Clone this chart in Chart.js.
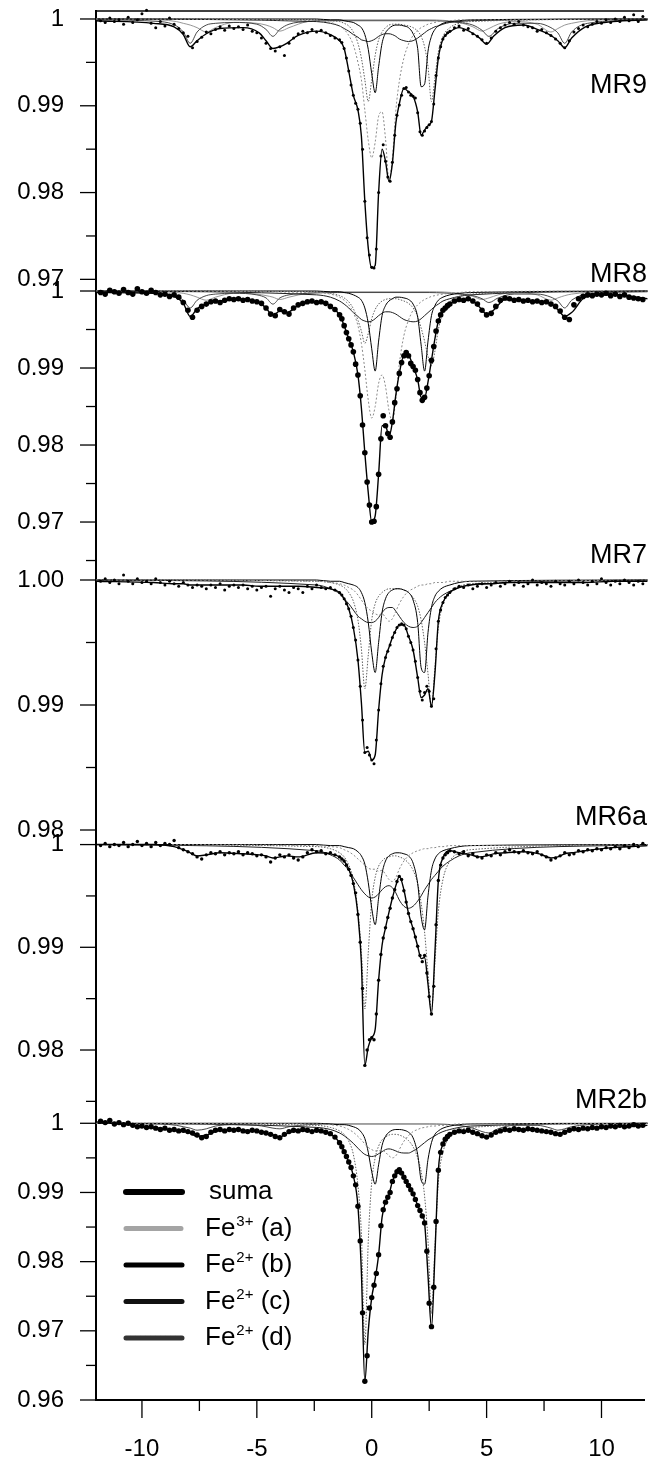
<!DOCTYPE html>
<html>
<head>
<meta charset="utf-8">
<script src="https://cdn.jsdelivr.net/npm/chart.js@4.4.1/dist/chart.umd.min.js"></script>
<style>
  html, body { margin: 0; padding: 0; background: #fff; }
  canvas { display: block; }
</style>
</head>
<body>
<canvas id="mycanvas" width="648" height="1466"></canvas>
<script>
// velocity channels, mm/s (finer steps across the central doublets)
const vel = [];
for (let i = 0; i < 52; i++) vel.push(+(-11.8 + 0.2 * i).toFixed(1));
for (let i = 0; i < 49; i++) vel.push(+(-1.4 + 0.1 * i).toFixed(1));
for (let i = 0; i < 42; i++) vel.push(+(3.6 + 0.2 * i).toFixed(1));

// velocities where the fitted curves are tabulated
const fitVel = [-12, -9.5, -8.6, -8.2, -7.9, -7.6, -7.2, -6.6, -5.6, -4.9,
  -4.6, -4.3, -4.0, -3.7, -3.2, -2.4, -1.8, -1.4, -1.2, -1.0,
  -0.8, -0.6, -0.45, -0.3, -0.15, 0, 0.15, 0.3, 0.45, 0.6,
  0.75, 0.9, 1.05, 1.2, 1.4, 1.6, 1.8, 2.0, 2.15, 2.3,
  2.45, 2.6, 2.75, 2.9, 3.1, 3.4, 3.8, 4.3, 4.7, 5.0,
  5.3, 5.8, 6.6, 7.3, 7.8, 8.1, 8.4, 8.7, 9.3, 10.5,
  12];
const dubVel = [-12, -2.4, -1.8, -1.4, -1.2, -1.0, -0.8, -0.6, -0.45, -0.3,
  -0.15, 0, 0.15, 0.3, 0.45, 0.6, 0.75, 0.9, 1.05, 1.2,
  1.4, 1.6, 1.8, 2.0, 2.15, 2.3, 2.45, 2.6, 2.75, 2.9,
  3.1, 3.4, 3.8, 4.3, 12];
const sextVel = [-12, -9.2, -8.5, -8.2, -7.9, -7.6, -7.2, -6.8, -6.0, -5.0,
  -4.6, -4.3, -4.0, -3.6, -2.8, -1.5, 2.5, 3.8, 4.4, 4.8,
  5.1, 5.5, 6.2, 7.2, 7.8, 8.1, 8.4, 8.7, 9.4, 12];

const xTicks = [-10, -7.5, -5, -2.5, 0, 2.5, 5, 7.5, 10];

// ---------- MR9 ----------
const mr9Obs = [
  0.9998, 0.9996, 1.0001, 0.9997, 0.9999, 0.9994, 1.0002, 0.9996, 0.9999, 1.0006,
  1.0010, 0.9995, 0.9990, 0.9997, 0.9992, 1.0001, 0.9994, 0.9989, 0.9984, 0.9980,
  0.9967, 0.9974, 0.9979, 0.9985, 0.9983, 0.9988, 0.9991, 0.9987, 0.9992, 0.9989,
  0.9991, 0.9988, 0.9993, 0.9986, 0.9984, 0.9978, 0.9972, 0.9966, 0.9963, 0.9968,
  0.9958, 0.9972, 0.9978, 0.9983, 0.9986, 0.9984, 0.9988, 0.9985, 0.9987, 0.9984,
  0.9981, 0.9978,
  0.9976, 0.9973, 0.9966, 0.9955, 0.9940, 0.9924, 0.9912, 0.9903, 0.9896, 0.9880,
  0.9850, 0.9790, 0.9748, 0.9728, 0.9714, 0.9713, 0.9735, 0.9800, 0.9842, 0.9855,
  0.9836, 0.9818, 0.9813, 0.9835, 0.9866, 0.9889, 0.9901, 0.9912, 0.9920, 0.9921,
  0.9916, 0.9912, 0.9911, 0.9909, 0.9892, 0.9870, 0.9866, 0.9871, 0.9875, 0.9878,
  0.9882, 0.9902, 0.9935, 0.9955, 0.9968, 0.9977, 0.9981, 0.9984, 0.9986,
  0.9990, 0.9992, 0.9987, 0.9989, 0.9983, 0.9980, 0.9976, 0.9972, 0.9978, 0.9986,
  0.9990, 0.9993, 0.9996, 0.9994, 0.9997, 0.9993, 0.9991, 0.9990, 0.9986, 0.9988,
  0.9984, 0.9981, 0.9977, 0.9972, 0.9967, 0.9975, 0.9985, 0.9989, 0.9993, 0.9991,
  0.9994, 0.9997, 0.9995, 0.9999, 0.9996, 1.0000, 0.9997, 1.0002, 0.9998, 1.0005,
  0.9997, 1.0003];
const mr9Sum = [
  0.9998, 0.9995, 0.9991, 0.9982, 0.9968, 0.9975, 0.9983, 0.9989, 0.9990, 0.9984,
  0.9975, 0.9966, 0.9968, 0.9972, 0.9981, 0.9986, 0.9982, 0.9975, 0.9966, 0.9940,
  0.9912, 0.9895, 0.9865, 0.9790, 0.9736, 0.9713, 0.9716, 0.9800, 0.9850, 0.9836,
  0.9813, 0.9834, 0.9880, 0.9902, 0.9920, 0.9916, 0.9911, 0.9893, 0.9866, 0.9872,
  0.9877, 0.9882, 0.9918, 0.9955, 0.9977, 0.9985, 0.9990, 0.9985, 0.9978, 0.9971,
  0.9980, 0.9990, 0.9993, 0.9987, 0.9981, 0.9975, 0.9967, 0.9978, 0.9991, 0.9997,
  0.9999];
const mr9A = [
  1.0, 0.9998, 0.9996, 0.9992, 0.9988, 0.9981, 0.9970, 0.9950, 0.9930, 0.9895,
  0.9860, 0.9840, 0.9858, 0.9888, 0.9893, 0.9862, 0.9815, 0.9840, 0.9895, 0.9928,
  0.9955, 0.9971, 0.9981, 0.9987, 0.9990, 0.9992, 0.9994, 0.9995, 0.9996, 0.9997,
  0.9998, 0.9998, 0.9999, 0.9999, 1.0];
const mr9B = [
  1.0, 1.0, 0.9999, 0.9999, 0.9998, 0.9997, 0.9996, 0.9993, 0.9990, 0.9982,
  0.9965, 0.9937, 0.9915, 0.9945, 0.9972, 0.9984, 0.9989, 0.9992, 0.9993, 0.9993,
  0.9992, 0.9990, 0.9983, 0.9966, 0.9922, 0.9925, 0.9963, 0.9980, 0.9988, 0.9992,
  0.9995, 0.9997, 0.9998, 0.9999, 1.0];
const mr9C = [
  1.0, 0.9999, 0.9998, 0.9997, 0.9995, 0.9992, 0.9985, 0.9972, 0.9955, 0.9930,
  0.9905, 0.9930, 0.9958, 0.9976, 0.9985, 0.9990, 0.9993, 0.9994, 0.9994, 0.9994,
  0.9993, 0.9992, 0.9990, 0.9986, 0.9980, 0.9968, 0.9945, 0.9905, 0.9932, 0.9962,
  0.9980, 0.9990, 0.9995, 0.9997, 1.0];
const mr9D = [
  1.0, 0.9997, 0.9995, 0.9992, 0.9989, 0.9986, 0.9982, 0.9979, 0.9976, 0.9975,
  0.9974, 0.9975, 0.9977, 0.9980, 0.9982, 0.9983, 0.9983, 0.9982, 0.9980, 0.9977,
  0.9975, 0.9974, 0.9975, 0.9978, 0.9981, 0.9984, 0.9987, 0.9989, 0.9991, 0.9992,
  0.9994, 0.9996, 0.9997, 0.9998, 1.0];
const mr9S1 = [
  0.9999, 0.9997, 0.9992, 0.9985, 0.9972, 0.9985, 0.9993, 0.9995, 0.9996, 0.9994,
  0.9988, 0.9980, 0.9988, 0.9994, 0.9997, 0.9998, 0.9998, 0.9996, 0.9993, 0.9987,
  0.9980, 0.9989, 0.9995, 0.9995, 0.9990, 0.9984, 0.9972, 0.9985, 0.9995, 0.9999];
const mr9S2 = [
  1.0, 0.9999, 0.9997, 0.9995, 0.9993, 0.9990, 0.9985, 0.9990, 0.9996, 0.9995,
  0.9993, 0.9990, 0.9986, 0.9990, 0.9997, 0.9999, 0.9999, 0.9996, 0.9991, 0.9986,
  0.9989, 0.9994, 0.9997, 0.9994, 0.9985, 0.9989, 0.9993, 0.9995, 0.9998, 1.0];

// ---------- MR8 ----------
const mr8Obs = [
  0.9998, 0.9996, 1.0001, 0.9999, 0.9997, 1.0002, 0.9998, 0.9996, 1.0003, 0.9999,
  0.9997, 1.0001, 0.9998, 0.9995, 0.9996, 0.9993, 0.9995, 0.9992, 0.9985, 0.9975,
  0.9966, 0.9975, 0.9980, 0.9983, 0.9986, 0.9987, 0.9985, 0.9988, 0.9990, 0.9989,
  0.9990, 0.9988, 0.9989, 0.9987, 0.9986, 0.9984, 0.9978, 0.9970, 0.9968, 0.9976,
  0.9973, 0.9970, 0.9978, 0.9982, 0.9984, 0.9986, 0.9987, 0.9985, 0.9986, 0.9984,
  0.9980, 0.9976,
  0.9969, 0.9964, 0.9955, 0.9946, 0.9938, 0.9930, 0.9921, 0.9905, 0.9891, 0.9864,
  0.9826, 0.9790, 0.9752, 0.9722, 0.9700, 0.9701, 0.9720, 0.9762, 0.9808, 0.9838,
  0.9825, 0.9815, 0.9810, 0.9830, 0.9855, 0.9873, 0.9893, 0.9907, 0.9916, 0.9920,
  0.9916, 0.9906, 0.9902, 0.9897, 0.9885, 0.9868, 0.9858, 0.9862, 0.9874, 0.9890,
  0.9910, 0.9928, 0.9948, 0.9961, 0.9969, 0.9975, 0.9978, 0.9981, 0.9983,
  0.9987, 0.9989, 0.9988, 0.9990, 0.9987, 0.9983, 0.9975, 0.9969, 0.9971, 0.9980,
  0.9988, 0.9991, 0.9990, 0.9988, 0.9989, 0.9987, 0.9988, 0.9986, 0.9987, 0.9985,
  0.9986, 0.9983, 0.9980, 0.9974, 0.9966, 0.9963, 0.9982, 0.9990, 0.9993, 0.9995,
  0.9994, 0.9996, 0.9995, 0.9997, 0.9994, 0.9996, 0.9993, 0.9995, 0.9992, 0.9991,
  0.9990, 0.9989];
const mr8Sum = [
  0.9998, 0.9997, 0.9993, 0.9984, 0.9967, 0.9977, 0.9983, 0.9987, 0.9989, 0.9985,
  0.9978, 0.9968, 0.9974, 0.9972, 0.9981, 0.9986, 0.9981, 0.9969, 0.9955, 0.9938,
  0.9921, 0.9891, 0.9848, 0.9790, 0.9738, 0.9700, 0.9708, 0.9762, 0.9825, 0.9825,
  0.9811, 0.9830, 0.9865, 0.9893, 0.9916, 0.9916, 0.9902, 0.9885, 0.9862, 0.9861,
  0.9882, 0.9910, 0.9938, 0.9961, 0.9975, 0.9983, 0.9988, 0.9988, 0.9979, 0.9970,
  0.9975, 0.9989, 0.9988, 0.9986, 0.9983, 0.9976, 0.9967, 0.9972, 0.9992, 0.9995,
  0.9990];
const mr8A = [
  1.0, 0.9998, 0.9996, 0.9992, 0.9988, 0.9982, 0.9972, 0.9955, 0.9932, 0.9898,
  0.9858, 0.9835, 0.9850, 0.9880, 0.9891, 0.9876, 0.9845, 0.9831, 0.9860, 0.9905,
  0.9942, 0.9962, 0.9975, 0.9982, 0.9986, 0.9989, 0.9991, 0.9993, 0.9994, 0.9995,
  0.9996, 0.9997, 0.9998, 0.9999, 1.0];
const mr8B = [
  1.0, 1.0, 0.9999, 0.9999, 0.9998, 0.9997, 0.9995, 0.9992, 0.9988, 0.9978,
  0.9958, 0.9925, 0.9896, 0.9935, 0.9968, 0.9981, 0.9987, 0.9990, 0.9992, 0.9992,
  0.9991, 0.9989, 0.9983, 0.9966, 0.9930, 0.9896, 0.9935, 0.9968, 0.9981, 0.9988,
  0.9992, 0.9995, 0.9997, 0.9998, 1.0];
const mr8C = [
  1.0, 0.9999, 0.9997, 0.9994, 0.9991, 0.9986, 0.9977, 0.9962, 0.9948, 0.9932,
  0.9945, 0.9964, 0.9976, 0.9983, 0.9987, 0.9989, 0.9990, 0.9990, 0.9990, 0.9989,
  0.9987, 0.9984, 0.9978, 0.9967, 0.9952, 0.9935, 0.9915, 0.9903, 0.9922, 0.9950,
  0.9972, 0.9986, 0.9993, 0.9996, 1.0];
const mr8D = [
  1.0, 0.9995, 0.9992, 0.9987, 0.9983, 0.9978, 0.9972, 0.9967, 0.9963, 0.9961,
  0.9960, 0.9961, 0.9964, 0.9968, 0.9971, 0.9973, 0.9973, 0.9972, 0.9970, 0.9967,
  0.9963, 0.9961, 0.9960, 0.9961, 0.9964, 0.9968, 0.9972, 0.9976, 0.9980, 0.9983,
  0.9987, 0.9990, 0.9993, 0.9995, 1.0];
const mr8S1 = [
  0.9999, 0.9997, 0.9993, 0.9988, 0.9978, 0.9988, 0.9994, 0.9996, 0.9997, 0.9995,
  0.9991, 0.9983, 0.9991, 0.9995, 0.9997, 0.9998, 0.9998, 0.9996, 0.9994, 0.9990,
  0.9985, 0.9991, 0.9996, 0.9996, 0.9992, 0.9987, 0.9978, 0.9988, 0.9996, 0.9999];
const mr8S2 = [
  1.0, 0.9999, 0.9998, 0.9997, 0.9995, 0.9992, 0.9988, 0.9992, 0.9997, 0.9996,
  0.9994, 0.9992, 0.9989, 0.9992, 0.9997, 0.9999, 0.9999, 0.9997, 0.9993, 0.9989,
  0.9991, 0.9995, 0.9998, 0.9995, 0.9988, 0.9991, 0.9994, 0.9996, 0.9998, 1.0];

// ---------- MR7 ----------
const mr7Obs = [
  0.9999, 1.0001, 0.9998, 1.0000, 0.9997, 1.0004, 0.9999, 0.9997, 1.0001, 0.9998,
  0.9999, 0.9997, 1.0001, 0.9998, 0.9996, 0.9999, 0.9997, 0.9995, 0.9998, 0.9996,
  0.9994, 0.9996, 0.9995, 0.9993, 0.9996, 0.9994, 0.9997, 0.9992, 0.9995, 0.9996,
  0.9994, 0.9996, 0.9993, 0.9995, 0.9992, 0.9994, 0.9995, 0.9987, 0.9993, 0.9995,
  0.9992, 0.9990, 0.9994, 0.9993, 0.9990, 0.9995, 0.9993, 0.9996, 0.9994, 0.9993,
  0.9994, 0.9992,
  0.9990, 0.9988, 0.9985, 0.9981, 0.9977, 0.9971, 0.9962, 0.9952, 0.9936, 0.9915,
  0.9888, 0.9862, 0.9866, 0.9860, 0.9856, 0.9853, 0.9872, 0.9896, 0.9917, 0.9931,
  0.9938, 0.9943, 0.9948, 0.9954, 0.9958, 0.9962, 0.9964, 0.9965, 0.9964, 0.9961,
  0.9955, 0.9950, 0.9944, 0.9935, 0.9922, 0.9911, 0.9904, 0.9910, 0.9915, 0.9911,
  0.9899, 0.9905, 0.9945, 0.9967, 0.9976, 0.9982, 0.9986, 0.9988, 0.9990,
  0.9993, 0.9995, 0.9994, 0.9996, 0.9993, 0.9995, 0.9997, 0.9994, 0.9996, 0.9998,
  0.9995, 0.9997, 0.9999, 0.9996, 0.9998, 0.9995, 0.9997, 1.0000, 0.9996, 0.9998,
  0.9997, 0.9995, 0.9999, 0.9997, 0.9996, 0.9999, 0.9997, 1.0000, 0.9998, 0.9996,
  0.9999, 0.9997, 1.0001, 0.9998, 0.9996, 0.9999, 0.9997, 1.0000, 0.9998, 0.9996,
  0.9999, 0.9997];
const mr7Sum = [
  0.9999, 0.9998, 0.9997, 0.9997, 0.9996, 0.9996, 0.9996, 0.9996, 0.9996, 0.9995,
  0.9995, 0.9995, 0.9995, 0.9995, 0.9995, 0.9994, 0.9993, 0.9990, 0.9985, 0.9977,
  0.9962, 0.9936, 0.9902, 0.9862, 0.9863, 0.9856, 0.9860, 0.9896, 0.9924, 0.9938,
  0.9946, 0.9954, 0.9960, 0.9964, 0.9964, 0.9955, 0.9944, 0.9922, 0.9906, 0.9908,
  0.9913, 0.9899, 0.9925, 0.9967, 0.9982, 0.9990, 0.9994, 0.9996, 0.9997, 0.9997,
  0.9997, 0.9998, 0.9998, 0.9998, 0.9998, 0.9998, 0.9998, 0.9998, 0.9998, 0.9999,
  0.9999];
const mr7A = [
  1.0, 0.9999, 0.9998, 0.9997, 0.9996, 0.9994, 0.9992, 0.9988, 0.9984, 0.9980,
  0.9977, 0.9975, 0.9973, 0.9972, 0.9973, 0.9970, 0.9967, 0.9969, 0.9975, 0.9981,
  0.9987, 0.9991, 0.9993, 0.9995, 0.9996, 0.9996, 0.9997, 0.9997, 0.9998, 0.9998,
  0.9998, 0.9999, 0.9999, 0.9999, 1.0];
const mr7B = [
  1.0, 1.0, 0.9999, 0.9999, 0.9998, 0.9997, 0.9996, 0.9994, 0.9990, 0.9982,
  0.9966, 0.9942, 0.9926, 0.9950, 0.9974, 0.9985, 0.9990, 0.9992, 0.9993, 0.9993,
  0.9992, 0.9990, 0.9984, 0.9966, 0.9930, 0.9926, 0.9958, 0.9978, 0.9987, 0.9991,
  0.9994, 0.9996, 0.9998, 0.9999, 1.0];
const mr7C = [
  1.0, 0.9999, 0.9998, 0.9996, 0.9994, 0.9990, 0.9983, 0.9968, 0.9945, 0.9913,
  0.9940, 0.9968, 0.9981, 0.9987, 0.9990, 0.9992, 0.9993, 0.9993, 0.9993, 0.9993,
  0.9992, 0.9990, 0.9986, 0.9979, 0.9968, 0.9950, 0.9925, 0.9898, 0.9930, 0.9962,
  0.9981, 0.9991, 0.9995, 0.9997, 1.0];
const mr7D = [
  1.0, 0.9996, 0.9993, 0.9989, 0.9985, 0.9981, 0.9976, 0.9971, 0.9969, 0.9967,
  0.9966, 0.9966, 0.9967, 0.9970, 0.9974, 0.9977, 0.9978, 0.9978, 0.9975, 0.9971,
  0.9966, 0.9963, 0.9962, 0.9963, 0.9966, 0.9970, 0.9974, 0.9978, 0.9982, 0.9985,
  0.9988, 0.9991, 0.9994, 0.9996, 1.0];

// ---------- MR6a ----------
const mr6aObs = [
  0.9999, 1.0001, 0.9998, 1.0000, 0.9999, 1.0002, 0.9998, 1.0000, 1.0003, 0.9999,
  1.0001, 0.9998, 1.0002, 0.9999, 1.0001, 1.0000, 1.0004, 0.9997, 0.9995, 0.9993,
  0.9991, 0.9988, 0.9986, 0.9990, 0.9992, 0.9991, 0.9993, 0.9990, 0.9992, 0.9991,
  0.9993, 0.9990, 0.9992, 0.9991, 0.9989, 0.9990, 0.9988, 0.9983, 0.9987, 0.9990,
  0.9988, 0.9990, 0.9987, 0.9985, 0.9988, 0.9992, 0.9995, 0.9993, 0.9994, 0.9991,
  0.9992, 0.9990,
  0.9988, 0.9986, 0.9984, 0.9980, 0.9976, 0.9970, 0.9962, 0.9953, 0.9932, 0.9905,
  0.9860, 0.9785, 0.9800, 0.9810, 0.9812, 0.9810, 0.9835, 0.9868, 0.9893, 0.9909,
  0.9919, 0.9929, 0.9938, 0.9948, 0.9956, 0.9964, 0.9969, 0.9966, 0.9955, 0.9944,
  0.9933, 0.9925, 0.9918, 0.9910, 0.9901, 0.9892, 0.9886, 0.9892, 0.9875, 0.9852,
  0.9835, 0.9862, 0.9922, 0.9965, 0.9980, 0.9987, 0.9990, 0.9992, 0.9994,
  0.9993, 0.9991, 0.9993, 0.9989, 0.9991, 0.9988, 0.9987, 0.9990, 0.9989, 0.9992,
  0.9990, 0.9993, 0.9995, 0.9993, 0.9992, 0.9994, 0.9992, 0.9991, 0.9993, 0.9990,
  0.9988, 0.9985, 0.9987, 0.9989, 0.9992, 0.9990, 0.9991, 0.9994, 0.9993, 0.9995,
  0.9994, 0.9996, 0.9995, 0.9997, 0.9996, 0.9998, 0.9996, 0.9999, 0.9997, 1.0000,
  0.9998, 1.0001];
const mr6aSum = [
  1.0000, 1.0000, 0.9998, 0.9995, 0.9992, 0.9989, 0.9990, 0.9992, 0.9991, 0.9990,
  0.9989, 0.9987, 0.9988, 0.9989, 0.9988, 0.9992, 0.9991, 0.9988, 0.9984, 0.9976,
  0.9962, 0.9932, 0.9885, 0.9785, 0.9803, 0.9812, 0.9820, 0.9868, 0.9902, 0.9919,
  0.9934, 0.9948, 0.9960, 0.9969, 0.9956, 0.9933, 0.9918, 0.9901, 0.9889, 0.9890,
  0.9864, 0.9835, 0.9895, 0.9965, 0.9987, 0.9994, 0.9992, 0.9990, 0.9988, 0.9989,
  0.9991, 0.9992, 0.9993, 0.9991, 0.9987, 0.9988, 0.9991, 0.9992, 0.9994, 0.9997,
  0.9999];
const mr6aA = [
  1.0, 0.9999, 0.9998, 0.9997, 0.9995, 0.9993, 0.9990, 0.9986, 0.9983, 0.9980,
  0.9977, 0.9976, 0.9976, 0.9974, 0.9975, 0.9971, 0.9966, 0.9964, 0.9968, 0.9976,
  0.9984, 0.9989, 0.9992, 0.9994, 0.9995, 0.9996, 0.9996, 0.9997, 0.9997, 0.9998,
  0.9998, 0.9999, 0.9999, 0.9999, 1.0];
const mr6aB = [
  1.0, 1.0, 0.9999, 0.9999, 0.9998, 0.9997, 0.9996, 0.9993, 0.9989, 0.9981,
  0.9963, 0.9938, 0.9922, 0.9948, 0.9972, 0.9984, 0.9989, 0.9991, 0.9992, 0.9992,
  0.9991, 0.9989, 0.9982, 0.9962, 0.9930, 0.9917, 0.9950, 0.9975, 0.9986, 0.9991,
  0.9994, 0.9996, 0.9998, 0.9999, 1.0];
const mr6aC = [
  1.0, 0.9998, 0.9996, 0.9992, 0.9988, 0.9980, 0.9966, 0.9935, 0.9895, 0.9840,
  0.9895, 0.9945, 0.9968, 0.9979, 0.9984, 0.9987, 0.9988, 0.9989, 0.9989, 0.9988,
  0.9986, 0.9982, 0.9975, 0.9962, 0.9943, 0.9915, 0.9875, 0.9838, 0.9885, 0.9935,
  0.9966, 0.9984, 0.9992, 0.9995, 1.0];
const mr6aD = [
  1.0, 0.9994, 0.9990, 0.9985, 0.9980, 0.9975, 0.9968, 0.9961, 0.9956, 0.9952,
  0.9949, 0.9948, 0.9949, 0.9952, 0.9956, 0.9959, 0.9960, 0.9958, 0.9953, 0.9946,
  0.9940, 0.9938, 0.9940, 0.9945, 0.9950, 0.9956, 0.9961, 0.9966, 0.9970, 0.9974,
  0.9979, 0.9984, 0.9989, 0.9992, 1.0];

// ---------- MR2b ----------
const mr2bObs = [
  1.0003, 1.0001, 1.0004, 0.9999, 1.0001, 0.9998, 1.0000, 0.9997, 0.9995, 0.9996,
  0.9994, 0.9995, 0.9993, 0.9991, 0.9993, 0.9990, 0.9991, 0.9989, 0.9990, 0.9988,
  0.9986, 0.9983, 0.9979, 0.9981, 0.9987, 0.9990, 0.9991, 0.9989, 0.9991, 0.9990,
  0.9991, 0.9989, 0.9988, 0.9990, 0.9989, 0.9987, 0.9986, 0.9984, 0.9981, 0.9979,
  0.9984, 0.9988, 0.9990, 0.9989, 0.9991, 0.9990, 0.9988, 0.9990, 0.9989, 0.9987,
  0.9985, 0.9980,
  0.9972, 0.9966, 0.9959, 0.9952, 0.9944, 0.9936, 0.9924, 0.9911, 0.9880, 0.9830,
  0.9726, 0.9627, 0.9664, 0.9733, 0.9748, 0.9766, 0.9783, 0.9810, 0.9852, 0.9875,
  0.9886, 0.9893, 0.9900, 0.9916, 0.9924, 0.9930, 0.9933, 0.9928, 0.9922, 0.9916,
  0.9910, 0.9904, 0.9898, 0.9890, 0.9881, 0.9874, 0.9866, 0.9856, 0.9815, 0.9740,
  0.9706, 0.9763, 0.9858, 0.9932, 0.9958, 0.9970, 0.9977, 0.9981, 0.9984,
  0.9987, 0.9989, 0.9988, 0.9990, 0.9987, 0.9985, 0.9982, 0.9980, 0.9983, 0.9987,
  0.9989, 0.9991, 0.9990, 0.9992, 0.9991, 0.9990, 0.9992, 0.9991, 0.9990, 0.9989,
  0.9988, 0.9987, 0.9985, 0.9984, 0.9987, 0.9990, 0.9992, 0.9991, 0.9993, 0.9992,
  0.9994, 0.9993, 0.9995, 0.9994, 0.9996, 0.9995, 0.9997, 0.9995, 0.9996, 0.9998,
  0.9996, 0.9997];
const mr2bSum = [
  1.0002, 0.9994, 0.9990, 0.9988, 0.9986, 0.9981, 0.9983, 0.9990, 0.9990, 0.9988,
  0.9986, 0.9983, 0.9980, 0.9985, 0.9989, 0.9989, 0.9985, 0.9972, 0.9959, 0.9944,
  0.9924, 0.9880, 0.9785, 0.9627, 0.9700, 0.9748, 0.9775, 0.9810, 0.9864, 0.9886,
  0.9897, 0.9916, 0.9927, 0.9933, 0.9922, 0.9910, 0.9898, 0.9881, 0.9870, 0.9856,
  0.9780, 0.9704, 0.9810, 0.9932, 0.9970, 0.9984, 0.9989, 0.9988, 0.9983, 0.9980,
  0.9985, 0.9990, 0.9991, 0.9990, 0.9987, 0.9984, 0.9988, 0.9991, 0.9992, 0.9995,
  0.9997];
const mr2bA = [
  1.0, 0.9999, 0.9998, 0.9996, 0.9994, 0.9991, 0.9987, 0.9981, 0.9976, 0.9970,
  0.9965, 0.9962, 0.9960, 0.9960, 0.9961, 0.9958, 0.9953, 0.9950, 0.9953, 0.9962,
  0.9974, 0.9982, 0.9988, 0.9991, 0.9993, 0.9994, 0.9995, 0.9996, 0.9996, 0.9997,
  0.9997, 0.9998, 0.9999, 0.9999, 1.0];
const mr2bB = [
  1.0, 1.0, 0.9999, 0.9998, 0.9998, 0.9997, 0.9995, 0.9992, 0.9987, 0.9978,
  0.9958, 0.9930, 0.9912, 0.9940, 0.9968, 0.9981, 0.9987, 0.9990, 0.9991, 0.9991,
  0.9990, 0.9987, 0.9979, 0.9955, 0.9918, 0.9912, 0.9948, 0.9972, 0.9984, 0.9989,
  0.9993, 0.9996, 0.9998, 0.9999, 1.0];
const mr2bC = [
  1.0, 0.9997, 0.9994, 0.9989, 0.9984, 0.9974, 0.9955, 0.9910, 0.9840, 0.9680,
  0.9830, 0.9915, 0.9950, 0.9967, 0.9976, 0.9980, 0.9983, 0.9984, 0.9984, 0.9983,
  0.9980, 0.9975, 0.9966, 0.9950, 0.9930, 0.9895, 0.9830, 0.9725, 0.9820, 0.9915,
  0.9958, 0.9980, 0.9990, 0.9994, 1.0];
const mr2bD = [
  1.0, 0.9994, 0.9991, 0.9986, 0.9982, 0.9977, 0.9971, 0.9964, 0.9959, 0.9955,
  0.9953, 0.9952, 0.9953, 0.9956, 0.9959, 0.9962, 0.9963, 0.9962, 0.9960, 0.9958,
  0.9957, 0.9957, 0.9960, 0.9964, 0.9968, 0.9972, 0.9976, 0.9979, 0.9982, 0.9985,
  0.9988, 0.9991, 0.9994, 0.9996, 1.0];
const mr2bS1 = [
  1.0, 0.9999, 0.9997, 0.9995, 0.9993, 0.9990, 0.9992, 0.9996, 0.9998, 0.9997,
  0.9995, 0.9993, 0.9992, 0.9995, 0.9998, 0.9999, 0.9999, 0.9997, 0.9993, 0.9988,
  0.9986, 0.9992, 0.9997, 0.9997, 0.9993, 0.9990, 0.9992, 0.9995, 0.9998, 1.0];

const FONT = '"Liberation Sans", Arial, Helvetica, sans-serif';
Chart.defaults.font.family = FONT;
Chart.defaults.color = '#000';

// one stacked y axis per sample, top to bottom
const panels = [
  { id: 'MR9', obs: mr9Obs, sum: mr9Sum, comps: [mr9A, mr9B, mr9C, mr9D], sext: [mr9S1, mr9S2],
    min: 0.96935, max: 1.00092, weight: 274, dot: 1.5, tagDy: 74,
    major: [1, 0.99, 0.98, 0.97], majorText: ['1', '0.99', '0.98', '0.97'], minor: [0.995, 0.985, 0.975] },
  { id: 'MR8', obs: mr8Obs, sum: mr8Sum, comps: [mr8A, mr8B, mr8C, mr8D], sext: [mr8S1, mr8S2],
    min: 0.96442, max: 1.00078, weight: 280, dot: 2.8, tagDy: -9,
    major: [1, 0.99, 0.98, 0.97], majorText: ['1', '0.99', '0.98', '0.97'], minor: [0.995, 0.985, 0.975, 0.965] },
  { id: 'MR7', obs: mr7Obs, sum: mr7Sum, comps: [mr7A, mr7B, mr7C, mr7D], sext: [],
    min: 0.97936, max: 1.0012, weight: 273, dot: 1.5, tagDy: -17,
    major: [1, 0.99, 0.98], majorText: ['1.00', '0.99', '0.98'], minor: [0.995, 0.985] },
  { id: 'MR6a', obs: mr6aObs, sum: mr6aSum, comps: [mr6aA, mr6aB, mr6aC, mr6aD], sext: [],
    min: 0.97416, max: 1.00064, weight: 272, dot: 1.7, tagDy: -20,
    major: [1, 0.99, 0.98], majorText: ['1', '0.99', '0.98'], minor: [0.995, 0.985, 0.975] },
  { id: 'MR2b', obs: mr2bObs, sum: mr2bSum, comps: [mr2bA, mr2bB, mr2bC, mr2bD], sext: [mr2bS1],
    min: 0.96, max: 1.00192, weight: 290, dot: 2.7, tagDy: -15,
    major: [1, 0.99, 0.98, 0.97, 0.96], majorText: ['1', '0.99', '0.98', '0.97', '0.96'], minor: [0.995, 0.985, 0.975, 0.965] }
];

const compStyles = [
  { color: '#8a8a8a', width: 1, dash: [2, 2] },     // Fe3+ (a)
  { color: '#000000', width: 1, dash: [] },         // Fe2+ (b)
  { color: '#5e5e5e', width: 1, dash: [1.5, 1.5] }, // Fe2+ (c)
  { color: '#1e1e1e', width: 1, dash: [] }          // Fe2+ (d)
];

const legendRows = [
  { name: 'suma', sup: '', tail: '', color: '#000', width: 6, dash: [] },
  { name: 'Fe', sup: '3+', tail: ' (a)', color: '#a4a4a4', width: 5, dash: [3, 1] },
  { name: 'Fe', sup: '2+', tail: ' (b)', color: '#000', width: 5, dash: [] },
  { name: 'Fe', sup: '2+', tail: ' (c)', color: '#111', width: 5, dash: [] },
  { name: 'Fe', sup: '2+', tail: ' (d)', color: '#333', width: 5, dash: [4, 1] }
];

const pts = (xs, ys) => xs.map((x, i) => ({ x: x, y: ys[i] }));

const datasets = [];
const scales = {
  x: {
    type: 'linear', position: 'bottom', min: -12, max: 11.85,
    border: { color: '#000', width: 2 },
    grid: { drawOnChartArea: false, drawTicks: false },
    afterBuildTicks: s => { s.ticks = xTicks.map(v => ({ value: v })); },
    // fixed axis height: labels sit 35px below the axis line
    afterFit: s => { s.height = 64; s.paddingLeft = 0; s.paddingRight = 0; },
    ticks: { padding: 35, autoSkip: false, maxRotation: 0, font: { size: 24 },
      callback: v => (v % 5 === 0 ? String(v) : '') }
  }
};

panels.forEach((p, k) => {
  const yAxisID = 'y' + p.id;
  const tickVals = p.major.concat(p.minor);
  scales[yAxisID] = {
    type: 'linear', position: 'left', stack: 'samples', stackWeight: p.weight, weight: 10 - k,
    min: p.min, max: p.max,
    border: { color: '#000', width: 2 },
    grid: { drawOnChartArea: false, drawTicks: false },
    afterBuildTicks: s => { s.ticks = tickVals.map(v => ({ value: v })); },
    // fixed axis width; tick labels may run past the panel edges
    afterFit: s => { s.width = 96; s.paddingTop = 0; s.paddingBottom = 0; },
    ticks: { padding: 32, autoSkip: false, font: { size: 24 },
      callback: (v, i) => (i < p.major.length ? p.majorText[i] : '') }
  };

  p.sext.forEach((s, j) => datasets.push({
    data: pts(sextVel, s), yAxisID, order: 4, clip: false,
    borderColor: j === 0 ? '#333' : '#8a8a8a', borderWidth: 0.9,
    pointRadius: 0, cubicInterpolationMode: 'monotone', fill: false
  }));
  p.comps.forEach((c, j) => datasets.push({
    data: pts(dubVel, c), yAxisID, order: 3, clip: false,
    borderColor: compStyles[j].color, borderWidth: compStyles[j].width, borderDash: compStyles[j].dash,
    pointRadius: 0, cubicInterpolationMode: 'monotone', fill: false
  }));
  datasets.push({
    data: pts(fitVel, p.sum), yAxisID, order: 2, clip: false,
    borderColor: '#000', borderWidth: 1.4,
    pointRadius: 0, cubicInterpolationMode: 'monotone', fill: false
  });
  datasets.push({
    data: pts(vel, p.obs), yAxisID, order: 1, clip: false,
    showLine: false, pointRadius: p.dot, pointBorderWidth: 0,
    pointBackgroundColor: '#000', pointStyle: 'circle'
  });
});

// tick marks, top frame line, sample names and legend
const decorations = {
  id: 'decorations',
  afterDraw(chart) {
    const { ctx, chartArea } = chart;
    const line = (x1, y1, x2, y2) => { ctx.beginPath(); ctx.moveTo(x1, y1); ctx.lineTo(x2, y2); ctx.stroke(); };
    ctx.save();
    ctx.strokeStyle = '#000';
    ctx.lineWidth = 1.5;
    line(chartArea.left, chartArea.top, chartArea.right, chartArea.top);

    ctx.lineWidth = 1.3;
    panels.forEach(p => {
      const s = chart.scales['y' + p.id];
      p.major.forEach(v => { const y = s.getPixelForValue(v); line(s.right - 16, y, s.right, y); });
      p.minor.forEach(v => { const y = s.getPixelForValue(v); line(s.right - 10, y, s.right, y); });
    });
    const xs = chart.scales.x;
    xTicks.forEach(v => {
      const x = xs.getPixelForValue(v);
      line(x, xs.top, x, xs.top + (v % 5 === 0 ? 18 : 11));
    });

    ctx.fillStyle = '#000';
    ctx.font = '27px ' + FONT;
    ctx.textAlign = 'right';
    ctx.textBaseline = 'alphabetic';
    panels.forEach(p => {
      const s = chart.scales['y' + p.id];
      ctx.fillText(p.id, 647, s.getPixelForValue(1) + p.tagDy);
    });

    ctx.textAlign = 'left';
    ctx.textBaseline = 'middle';
    legendRows.forEach((r, i) => {
      const y = 1192 + i * 36.5;
      ctx.save();
      ctx.strokeStyle = r.color;
      ctx.lineWidth = r.width;
      ctx.lineCap = 'round';
      ctx.setLineDash(r.dash);
      line(126, y, 182, y);
      ctx.restore();
      let x = r.sup ? 205 : 209;
      ctx.font = '26px ' + FONT;
      ctx.fillText(r.name, x, y);
      x += ctx.measureText(r.name).width;
      if (r.sup) {
        ctx.font = '15px ' + FONT;
        ctx.fillText(r.sup, x + 1, y - 7);
        x += ctx.measureText(r.sup).width + 1;
        ctx.font = '26px ' + FONT;
        ctx.fillText(r.tail, x, y);
      }
    });
    ctx.restore();
  }
};

new Chart(document.getElementById('mycanvas'), {
  type: 'line',
  data: { datasets: datasets },
  options: {
    responsive: false,
    animation: false,
    events: [],
    layout: { padding: { top: 11, right: 0, bottom: 2, left: 0 } },
    scales: scales,
    plugins: { legend: { display: false }, tooltip: { enabled: false } }
  },
  plugins: [decorations]
});
</script>
</body>
</html>
